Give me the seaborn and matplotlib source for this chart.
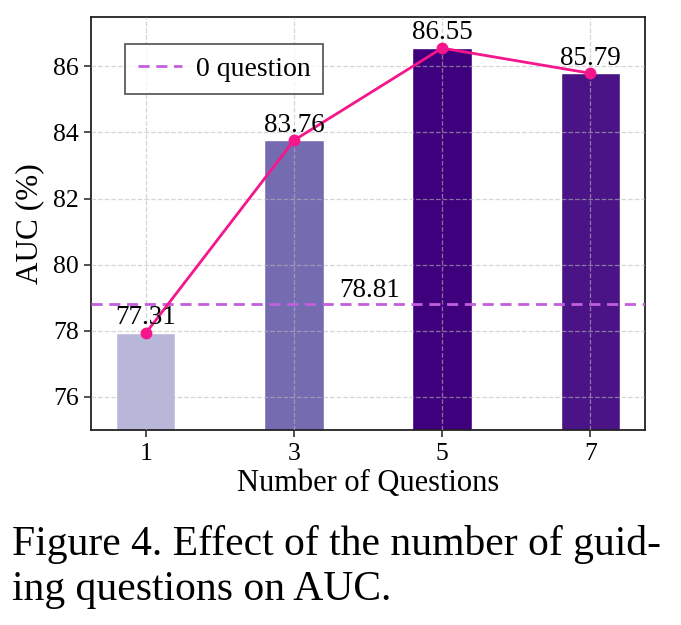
import matplotlib
matplotlib.use("Agg")
import matplotlib.pyplot as plt
import seaborn as sns
import pandas as pd

# ---- data ----
questions = ["1", "3", "5", "7"]
auc_values = [77.93, 83.76, 86.55, 85.79]
value_labels = ["77.31", "83.76", "86.55", "85.79"]
baseline_auc = 78.81
baseline_label = "78.81"
legend_label = "0 question"
bar_colors = ["#b8b7da", "#756bb1", "#3f007d", "#4a1486"]
y_ticks = [76, 78, 80, 82, 84, 86]
caption_lines = ["Figure 4. Effect of the number of guid-", "ing questions on AUC."]

sns.set_theme(style="white")
plt.rcParams["font.family"] = ["Liberation Serif", "DejaVu Serif"]
plt.rcParams["text.color"] = "black"
plt.rcParams["axes.labelcolor"] = "black"
plt.rcParams["xtick.color"] = "black"
plt.rcParams["ytick.color"] = "black"

df = pd.DataFrame({"Questions": questions, "AUC": auc_values})

fig = plt.figure(figsize=(6.81, 6.25), dpi=100)
ax = fig.add_axes([91 / 681, 1 - 430 / 625, 554 / 681, 413.3 / 625])

sns.barplot(data=df, x="Questions", y="AUC", hue="Questions", palette=bar_colors,
            width=0.4, legend=False, ax=ax, saturation=1, zorder=1)
sns.pointplot(data=df, x="Questions", y="AUC", color="#f5168c", markers="o",
              linestyles="-", markersize=7, linewidth=2, ax=ax, zorder=4)

base = ax.axhline(baseline_auc, color="#c25fdc", linestyle=(0, (4, 2.4)),
                  linewidth=2, zorder=3, label=legend_label)

for i, (v, lab) in enumerate(zip(auc_values, value_labels)):
    ax.text(i, v + 0.08, lab, ha="center", va="bottom", fontsize=19.5,
            color="black", zorder=5)
ax.text(1.51, baseline_auc + 0.03, baseline_label, ha="center", va="bottom",
        fontsize=19.5, color="black", zorder=5)

ax.set_ylim(75, 87.5)
ax.set_xlim(-0.37, 3.37)
ax.set_yticks(y_ticks)
ax.set_axisbelow(False)
ax.grid(True, linestyle="--", color="#bbbbbb", alpha=0.6, linewidth=0.9, zorder=2)

for s in ax.spines.values():
    s.set_color("#222222")
    s.set_linewidth(1.3)
ax.tick_params(axis="both", which="major", direction="out", length=5, width=1.1,
               color="#222222", labelcolor="black", labelsize=18.5, pad=4,
               left=True, bottom=True)

ax.set_xlabel("Number of Questions", fontsize=22, labelpad=3, color="black")
ax.set_ylabel("AUC (%)", fontsize=22.5, labelpad=6, color="black")

leg = ax.legend(handles=[base], loc="upper left", bbox_to_anchor=(0.062, 0.935),
                fontsize=20, frameon=True, fancybox=False, edgecolor="#222222",
                handlelength=1.6, handletextpad=0.5, borderpad=0.45,
                borderaxespad=0, labelcolor="black")
leg.get_frame().set_linewidth(1.2)

fig.text(12 / 681, 1 - 554.5 / 625, caption_lines[0], fontsize=30, ha="left",
         va="baseline", color="black")
fig.text(12 / 681, 1 - 600 / 625, caption_lines[1], fontsize=30, ha="left",
         va="baseline", color="black")

fig.savefig("out.png", dpi=100, facecolor="white")
